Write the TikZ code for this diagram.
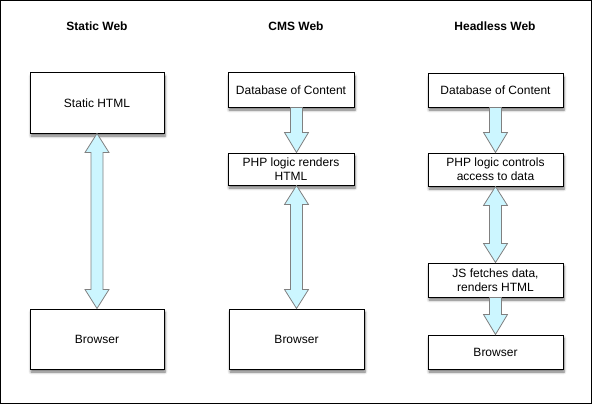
\documentclass[tikz,border=0pt]{standalone}
\usepackage{fontspec}
\setmainfont{Liberation Sans}
\usetikzlibrary{calc,shadows,shadows.blur}
\definecolor{arrowfill}{RGB}{204,246,255}
\definecolor{arrowline}{RGB}{128,128,128}
\tikzset{
  box/.style={draw=black, line width=1pt, fill=white, align=center, inner sep=2pt,
    font=\fontsize{12}{14}\selectfont,
    blur shadow={shadow xshift=1pt, shadow yshift=-3pt, shadow blur radius=2.5pt,
      shadow blur steps=6, shadow opacity=55}},
  title/.style={font=\bfseries\fontsize{12}{14}\selectfont},
  barrow/.style={draw=arrowline, fill=arrowfill, line width=0.8pt, line join=miter}
}
\newcommand{\singlearrow}[3]{%
  \draw[barrow] let \p1=(#1.south -| #3), \p2=(#2.north -| #3) in
    (\x1-6pt,\y1) -- (\x1-6pt,\y2+20pt) -- (\x1-12pt,\y2+20pt) -- (\x2,\y2)
    -- (\x1+12pt,\y2+20pt) -- (\x1+6pt,\y2+20pt) -- (\x1+6pt,\y1) -- cycle;}
\newcommand{\doublearrow}[3]{%
  \draw[barrow] let \p1=(#1.south -| #3), \p2=(#2.north -| #3) in
    (\x1,\y1) -- (\x1+12pt,\y1-19pt) -- (\x1+6pt,\y1-19pt) -- (\x1+6pt,\y2+19pt)
    -- (\x1+12pt,\y2+19pt) -- (\x2,\y2) -- (\x1-12pt,\y2+19pt) -- (\x1-6pt,\y2+19pt)
    -- (\x1-6pt,\y1-19pt) -- (\x1-12pt,\y1-19pt) -- cycle;}
\begin{document}
\begin{tikzpicture}[x=1pt,y=1pt]
\useasboundingbox (0,0) rectangle (592,-404);
\draw[line width=1.2pt] (0.6,-0.6) rectangle (591.4,-403.4);
% titles
\node[title] (t1) at (97,-26) {Static Web};
\node[title] (t2) at (296,-26) {CMS Web};
\node[title] (t3) at (495,-26) {Headless Web};
% axis coordinates for arrows
\coordinate (c1) at (97,0);
\coordinate (c2) at (296.5,0);
\coordinate (c3) at (495.5,0);
% static column
\node[box, minimum width=134pt, minimum height=60pt] (sh) at (97,-103) {Static HTML};
\node[box, minimum width=134pt, minimum height=60pt] (sb) at (97,-339) {Browser};
% CMS column
\node[box, minimum width=126pt, minimum height=34pt] (cdb) at (291,-90) {Database of Content};
\node[box, minimum width=126pt, minimum height=32pt] (cphp) at (291,-169) {PHP logic renders\\HTML};
\node[box, minimum width=135pt, minimum height=60pt] (cb) at (296.5,-339) {Browser};
% Headless column
\node[box, minimum width=135pt, minimum height=33pt] (hdb) at (495.5,-90.5) {Database of Content};
\node[box, minimum width=135pt, minimum height=33pt] (hphp) at (495.5,-169.5) {PHP logic controls\\access to data};
\node[box, minimum width=135pt, minimum height=34pt] (hjs) at (495.5,-280) {JS fetches data,\\renders HTML};
\node[box, minimum width=135pt, minimum height=34pt] (hb) at (495.5,-352) {Browser};
% arrows
\doublearrow{sh}{sb}{c1}
\singlearrow{cdb}{cphp}{c2}
\doublearrow{cphp}{cb}{c2}
\singlearrow{hdb}{hphp}{c3}
\doublearrow{hphp}{hjs}{c3}
\singlearrow{hjs}{hb}{c3}
\end{tikzpicture}
\end{document}
